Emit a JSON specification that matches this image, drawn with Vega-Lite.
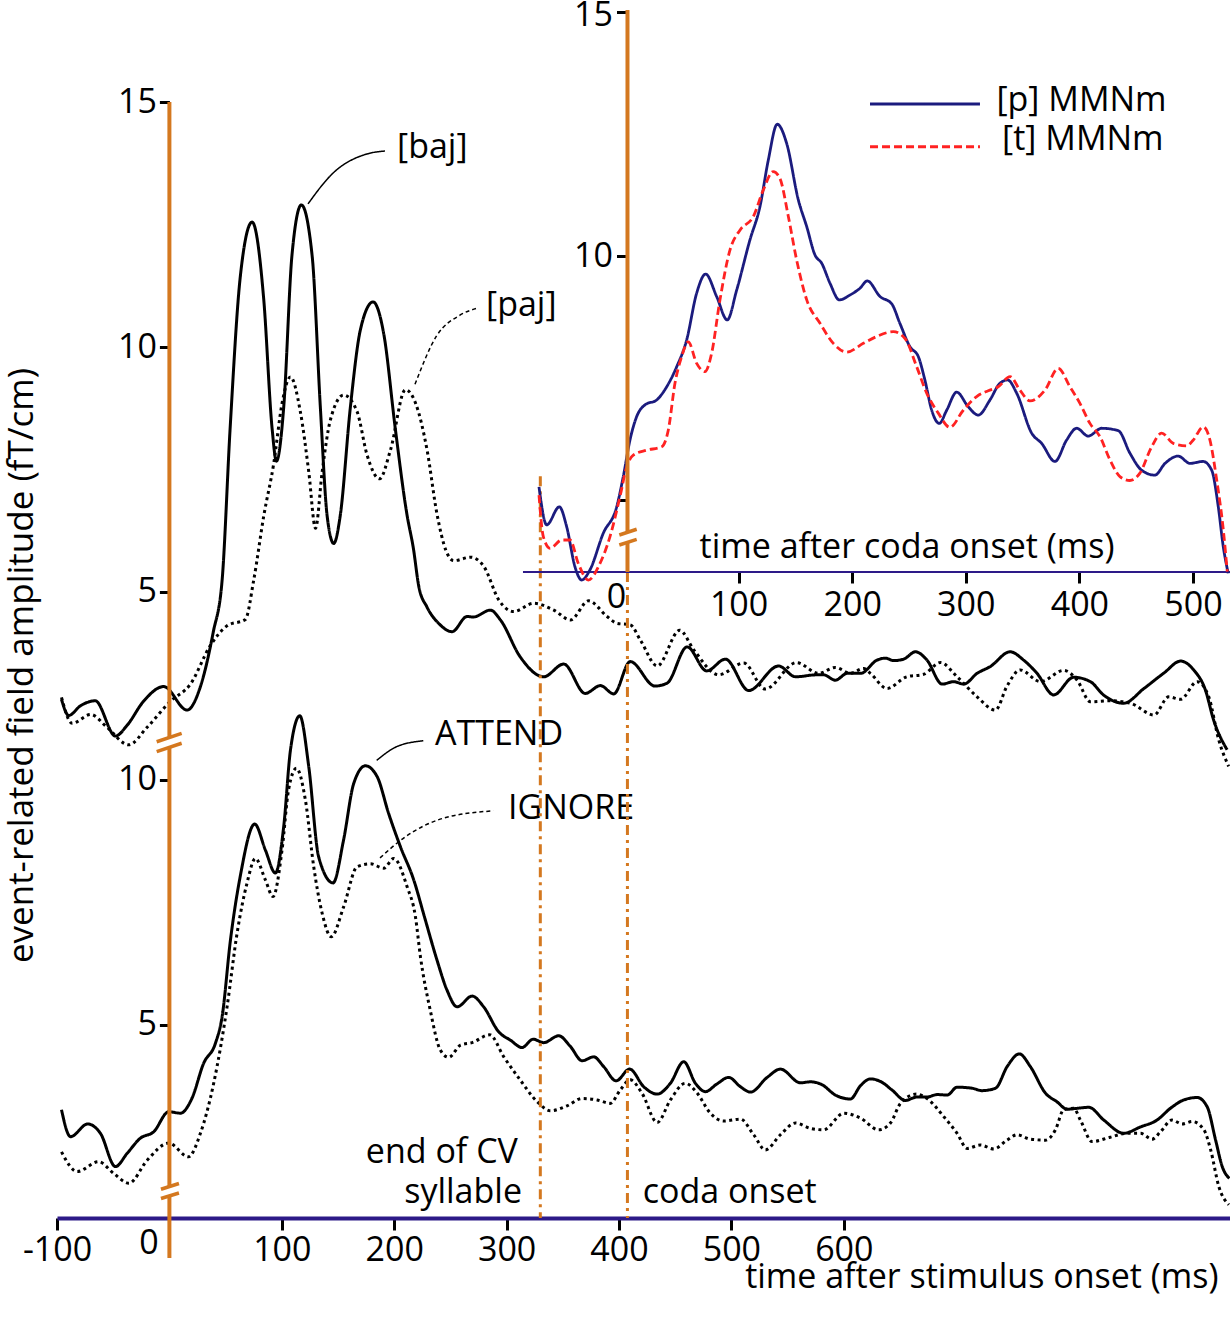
{
  "$schema": "https://vega.github.io/schema/vega-lite/v6.json",
  "width": 1173,
  "height": 1218,
  "autosize": {"type": "none"},
  "padding": {"left": 57, "top": 0, "right": 0, "bottom": 99},
  "background": "white",
  "config": {
    "view": {"stroke": null},
    "axis": {"labelFont": "Open Sans", "titleFont": "Open Sans", "grid": false},
    "text": {"font": "Open Sans"}
  },
  "datasets": {
    "upperCurves": [
      {"s":"baj","t":-96,"v":2.81},{"s":"baj","t":-89.6,"v":2.48},{"s":"baj","t":-79,"v":2.68},{"s":"baj","t":-66,"v":2.78},{"s":"baj","t":-48,"v":2.06},{"s":"baj","t":-37.6,"v":2.28},{"s":"baj","t":-23,"v":2.77},{"s":"baj","t":-5,"v":3.07},{"s":"baj","t":15.7,"v":2.59},{"s":"baj","t":27.6,"v":3.07},{"s":"baj","t":39,"v":4.18},{"s":"baj","t":46.9,"v":5.24},{"s":"baj","t":54,"v":8.33},{"s":"baj","t":63,"v":11.42},{"s":"baj","t":73.6,"v":12.55},{"s":"baj","t":83.9,"v":10.98},{"s":"baj","t":91.4,"v":8.33},{"s":"baj","t":95.2,"v":7.67},{"s":"baj","t":101.7,"v":8.77},{"s":"baj","t":109,"v":11.86},{"s":"baj","t":117.4,"v":12.9},{"s":"baj","t":127,"v":11.86},{"s":"baj","t":134.3,"v":8.77},{"s":"baj","t":140.3,"v":6.56},{"s":"baj","t":146.2,"v":5.99},{"s":"baj","t":152,"v":6.56},{"s":"baj","t":161,"v":8.77},{"s":"baj","t":170,"v":10.36},{"s":"baj","t":181.2,"v":10.92},{"s":"baj","t":190.7,"v":10.27},{"s":"baj","t":201,"v":8.33},{"s":"baj","t":211.5,"v":6.56},{"s":"baj","t":217,"v":5.9},{"s":"baj","t":222,"v":5.1},{"s":"baj","t":229,"v":4.7},{"s":"baj","t":240,"v":4.35},{"s":"baj","t":251.5,"v":4.19},{"s":"baj","t":264.8,"v":4.5},{"s":"baj","t":270.5,"v":4.49},{"s":"baj","t":285.6,"v":4.63},{"s":"baj","t":294.5,"v":4.43},{"s":"baj","t":312,"v":3.68},{"s":"baj","t":333,"v":3.27},{"s":"baj","t":350.8,"v":3.53},{"s":"baj","t":370,"v":2.93},{"s":"baj","t":383.5,"v":3.09},{"s":"baj","t":395.3,"v":2.92},{"s":"baj","t":410,"v":3.58},{"s":"baj","t":432,"v":3.08},{"s":"baj","t":442.8,"v":3.14},{"s":"baj","t":460.6,"v":3.88},{"s":"baj","t":478,"v":3.39},{"s":"baj","t":494.7,"v":3.63},{"s":"baj","t":515.4,"v":2.99},{"s":"baj","t":542,"v":3.49},{"s":"baj","t":557,"v":3.27},{"s":"baj","t":576,"v":3.31},{"s":"baj","t":582,"v":3.31},{"s":"baj","t":592.5,"v":3.2},{"s":"baj","t":603,"v":3.34},{"s":"baj","t":615,"v":3.34},{"s":"baj","t":629.6,"v":3.61},{"s":"baj","t":637,"v":3.65},{"s":"baj","t":644.4,"v":3.6},{"s":"baj","t":653.3,"v":3.63},{"s":"baj","t":663.7,"v":3.78},{"s":"baj","t":674,"v":3.61},{"s":"baj","t":687.5,"v":3.12},{"s":"baj","t":697.8,"v":3.17},{"s":"baj","t":706.7,"v":3.12},{"s":"baj","t":718.6,"v":3.34},{"s":"baj","t":730.4,"v":3.48},{"s":"baj","t":748,"v":3.78},{"s":"baj","t":760,"v":3.61},{"s":"baj","t":771.9,"v":3.34},{"s":"baj","t":786.7,"v":2.9},{"s":"baj","t":804.5,"v":3.26},{"s":"baj","t":819.4,"v":3.17},{"s":"baj","t":831,"v":2.9},{"s":"baj","t":849,"v":2.73},{"s":"baj","t":867,"v":3.03},{"s":"baj","t":885,"v":3.35},{"s":"baj","t":899.6,"v":3.59},{"s":"baj","t":911.3,"v":3.41},{"s":"baj","t":921.7,"v":3.0},{"s":"baj","t":929,"v":2.39},{"s":"baj","t":941,"v":1.78},
      {"s":"paj","t":-96,"v":2.85},{"s":"paj","t":-86.6,"v":2.32},{"s":"paj","t":-70,"v":2.5},{"s":"paj","t":-55.5,"v":2.24},{"s":"paj","t":-36.2,"v":1.88},{"s":"paj","t":-19.8,"v":2.24},{"s":"paj","t":0.9,"v":2.77},{"s":"paj","t":18.7,"v":3.12},{"s":"paj","t":36.5,"v":3.91},{"s":"paj","t":51.3,"v":4.31},{"s":"paj","t":67.6,"v":4.44},{"s":"paj","t":75,"v":5.24},{"s":"paj","t":84,"v":6.56},{"s":"paj","t":92.8,"v":7.62},{"s":"paj","t":100.3,"v":8.86},{"s":"paj","t":107.7,"v":9.39},{"s":"paj","t":116.5,"v":8.68},{"s":"paj","t":124,"v":7.45},{"s":"paj","t":130,"v":6.3},{"s":"paj","t":135.9,"v":7.45},{"s":"paj","t":143.2,"v":8.51},{"s":"paj","t":155,"v":9.02},{"s":"paj","t":167,"v":8.68},{"s":"paj","t":175.8,"v":7.8},{"s":"paj","t":187,"v":7.31},{"s":"paj","t":196.6,"v":7.89},{"s":"paj","t":210,"v":9.13},{"s":"paj","t":218.9,"v":8.86},{"s":"paj","t":229.3,"v":7.89},{"s":"paj","t":238,"v":6.6},{"s":"paj","t":246,"v":5.85},{"s":"paj","t":253,"v":5.64},{"s":"paj","t":268,"v":5.71},{"s":"paj","t":279.8,"v":5.52},{"s":"paj","t":293,"v":4.84},{"s":"paj","t":306.3,"v":4.6},{"s":"paj","t":324,"v":4.77},{"s":"paj","t":342,"v":4.63},{"s":"paj","t":356.8,"v":4.43},{"s":"paj","t":373,"v":4.82},{"s":"paj","t":389.4,"v":4.5},{"s":"paj","t":398.3,"v":4.36},{"s":"paj","t":410,"v":4.33},{"s":"paj","t":419,"v":4.02},{"s":"paj","t":434,"v":3.49},{"s":"paj","t":454,"v":4.22},{"s":"paj","t":466.5,"v":3.82},{"s":"paj","t":488.7,"v":3.31},{"s":"paj","t":511,"v":3.55},{"s":"paj","t":530,"v":3.02},{"s":"paj","t":558,"v":3.56},{"s":"paj","t":577.6,"v":3.34},{"s":"paj","t":592.5,"v":3.46},{"s":"paj","t":605.9,"v":3.34},{"s":"paj","t":617.7,"v":3.44},{"s":"paj","t":623.6,"v":3.34},{"s":"paj","t":638.5,"v":3.03},{"s":"paj","t":656,"v":3.27},{"s":"paj","t":671,"v":3.32},{"s":"paj","t":686,"v":3.56},{"s":"paj","t":700.8,"v":3.27},{"s":"paj","t":718.6,"v":2.86},{"s":"paj","t":734.9,"v":2.59},{"s":"paj","t":745,"v":3.07},{"s":"paj","t":757,"v":3.41},{"s":"paj","t":774.9,"v":3.17},{"s":"paj","t":795.6,"v":3.4},{"s":"paj","t":807.6,"v":3.2},{"s":"paj","t":819.4,"v":2.76},{"s":"paj","t":837,"v":2.78},{"s":"paj","t":855,"v":2.73},{"s":"paj","t":876,"v":2.49},{"s":"paj","t":889,"v":2.86},{"s":"paj","t":899.6,"v":2.81},{"s":"paj","t":914.4,"v":3.17},{"s":"paj","t":924.7,"v":2.86},{"s":"paj","t":933.6,"v":1.98},{"s":"paj","t":942.4,"v":1.44}
    ],
    "upperLeaders": [
      {"n":"baj","t":123.3,"v":12.92},{"n":"baj","t":145.6,"v":13.55},{"n":"baj","t":175.8,"v":13.94},{"n":"baj","t":191.8,"v":14.0},
      {"n":"paj","t":218.5,"v":9.24},{"n":"paj","t":237.8,"v":10.23},{"n":"paj","t":258.5,"v":10.65},{"n":"paj","t":274.8,"v":10.8}
    ],
    "upperNotes": [
      {"label":"[baj]","t":202.5,"v":14.07},
      {"label":"[paj]","t":281.7,"v":10.84}
    ],
    "lowerCurves": [
      {"s":"ATTEND","t":-96,"v":3.27},{"s":"ATTEND","t":-88,"v":2.72},{"s":"ATTEND","t":-72.7,"v":2.98},{"s":"ATTEND","t":-61.4,"v":2.79},{"s":"ATTEND","t":-48,"v":2.11},{"s":"ATTEND","t":-37.6,"v":2.38},{"s":"ATTEND","t":-25.8,"v":2.69},{"s":"ATTEND","t":-14,"v":2.82},{"s":"ATTEND","t":-0.6,"v":3.23},{"s":"ATTEND","t":9.8,"v":3.2},{"s":"ATTEND","t":20,"v":3.5},{"s":"ATTEND","t":30.5,"v":4.22},{"s":"ATTEND","t":41,"v":4.63},{"s":"ATTEND","t":46.9,"v":5.17},{"s":"ATTEND","t":54.3,"v":6.73},{"s":"ATTEND","t":63,"v":8.03},{"s":"ATTEND","t":75.9,"v":9.1},{"s":"ATTEND","t":85.4,"v":8.57},{"s":"ATTEND","t":94.3,"v":8.1},{"s":"ATTEND","t":101.7,"v":9.05},{"s":"ATTEND","t":107.7,"v":10.61},{"s":"ATTEND","t":116,"v":11.31},{"s":"ATTEND","t":124,"v":10.27},{"s":"ATTEND","t":132.8,"v":8.43},{"s":"ATTEND","t":145.6,"v":7.9},{"s":"ATTEND","t":155,"v":8.78},{"s":"ATTEND","t":164,"v":9.93},{"s":"ATTEND","t":174.4,"v":10.29},{"s":"ATTEND","t":184.8,"v":10.07},{"s":"ATTEND","t":195,"v":9.32},{"s":"ATTEND","t":205.5,"v":8.64},{"s":"ATTEND","t":217.4,"v":7.96},{"s":"ATTEND","t":227,"v":7.2},{"s":"ATTEND","t":238,"v":6.33},{"s":"ATTEND","t":247,"v":5.71},{"s":"ATTEND","t":256,"v":5.37},{"s":"ATTEND","t":269.3,"v":5.59},{"s":"ATTEND","t":279.6,"v":5.37},{"s":"ATTEND","t":293,"v":4.86},{"s":"ATTEND","t":303.4,"v":4.69},{"s":"ATTEND","t":313.8,"v":4.54},{"s":"ATTEND","t":323.6,"v":4.71},{"s":"ATTEND","t":333,"v":4.64},{"s":"ATTEND","t":346.4,"v":4.78},{"s":"ATTEND","t":356.8,"v":4.56},{"s":"ATTEND","t":367.2,"v":4.27},{"s":"ATTEND","t":377.5,"v":4.35},{"s":"ATTEND","t":386.4,"v":4.15},{"s":"ATTEND","t":397.4,"v":3.86},{"s":"ATTEND","t":409.5,"v":4.1},{"s":"ATTEND","t":422,"v":3.74},{"s":"ATTEND","t":434,"v":3.59},{"s":"ATTEND","t":445.7,"v":3.81},{"s":"ATTEND","t":457.6,"v":4.25},{"s":"ATTEND","t":468,"v":3.81},{"s":"ATTEND","t":476.9,"v":3.64},{"s":"ATTEND","t":487.3,"v":3.8},{"s":"ATTEND","t":497.6,"v":3.93},{"s":"ATTEND","t":508,"v":3.74},{"s":"ATTEND","t":517,"v":3.63},{"s":"ATTEND","t":531.8,"v":3.93},{"s":"ATTEND","t":543.6,"v":4.1},{"s":"ATTEND","t":561.4,"v":3.82},{"s":"ATTEND","t":570.3,"v":3.84},{"s":"ATTEND","t":580.7,"v":3.78},{"s":"ATTEND","t":592.5,"v":3.57},{"s":"ATTEND","t":605.9,"v":3.49},{"s":"ATTEND","t":614.8,"v":3.76},{"s":"ATTEND","t":623.7,"v":3.9},{"s":"ATTEND","t":634,"v":3.83},{"s":"ATTEND","t":643,"v":3.67},{"s":"ATTEND","t":654.8,"v":3.46},{"s":"ATTEND","t":665,"v":3.53},{"s":"ATTEND","t":674,"v":3.53},{"s":"ATTEND","t":683,"v":3.58},{"s":"ATTEND","t":692,"v":3.57},{"s":"ATTEND","t":700.8,"v":3.73},{"s":"ATTEND","t":714,"v":3.71},{"s":"ATTEND","t":723,"v":3.66},{"s":"ATTEND","t":735,"v":3.71},{"s":"ATTEND","t":745.3,"v":4.15},{"s":"ATTEND","t":756.2,"v":4.41},{"s":"ATTEND","t":766,"v":4.15},{"s":"ATTEND","t":779.4,"v":3.61},{"s":"ATTEND","t":789.8,"v":3.43},{"s":"ATTEND","t":798.7,"v":3.28},{"s":"ATTEND","t":807.6,"v":3.3},{"s":"ATTEND","t":818,"v":3.32},{"s":"ATTEND","t":831.3,"v":3.06},{"s":"ATTEND","t":849,"v":2.79},{"s":"ATTEND","t":864,"v":2.92},{"s":"ATTEND","t":878.7,"v":3.06},{"s":"ATTEND","t":890.6,"v":3.3},{"s":"ATTEND","t":902.5,"v":3.47},{"s":"ATTEND","t":914.4,"v":3.52},{"s":"ATTEND","t":923.3,"v":3.33},{"s":"ATTEND","t":930.8,"v":2.65},{"s":"ATTEND","t":936.7,"v":2.11},{"s":"ATTEND","t":943,"v":1.87},
      {"s":"IGNORE","t":-96,"v":2.41},{"s":"IGNORE","t":-82,"v":2.01},{"s":"IGNORE","t":-63,"v":2.21},{"s":"IGNORE","t":-49.5,"v":1.97},{"s":"IGNORE","t":-36,"v":1.77},{"s":"IGNORE","t":-19.8,"v":2.24},{"s":"IGNORE","t":-0.6,"v":2.59},{"s":"IGNORE","t":17,"v":2.31},{"s":"IGNORE","t":27.6,"v":2.79},{"s":"IGNORE","t":39.4,"v":3.81},{"s":"IGNORE","t":51.3,"v":5.37},{"s":"IGNORE","t":60.2,"v":6.87},{"s":"IGNORE","t":69,"v":7.89},{"s":"IGNORE","t":76.5,"v":8.4},{"s":"IGNORE","t":85.4,"v":7.96},{"s":"IGNORE","t":92.2,"v":7.62},{"s":"IGNORE","t":100.2,"v":8.57},{"s":"IGNORE","t":106,"v":9.8},{"s":"IGNORE","t":113,"v":10.24},{"s":"IGNORE","t":121,"v":9.59},{"s":"IGNORE","t":128.4,"v":8.23},{"s":"IGNORE","t":135.9,"v":7.28},{"s":"IGNORE","t":144,"v":6.8},{"s":"IGNORE","t":155,"v":7.41},{"s":"IGNORE","t":167,"v":8.23},{"s":"IGNORE","t":178.8,"v":8.29},{"s":"IGNORE","t":190.7,"v":8.2},{"s":"IGNORE","t":199.6,"v":8.4},{"s":"IGNORE","t":211.5,"v":7.82},{"s":"IGNORE","t":218.9,"v":7.21},{"s":"IGNORE","t":223.3,"v":6.4},{"s":"IGNORE","t":232,"v":5.31},{"s":"IGNORE","t":241,"v":4.49},{"s":"IGNORE","t":248.5,"v":4.34},{"s":"IGNORE","t":259,"v":4.59},{"s":"IGNORE","t":269.3,"v":4.64},{"s":"IGNORE","t":285,"v":4.8},{"s":"IGNORE","t":297.5,"v":4.35},{"s":"IGNORE","t":312,"v":3.88},{"s":"IGNORE","t":327,"v":3.44},{"s":"IGNORE","t":339,"v":3.25},{"s":"IGNORE","t":353.8,"v":3.35},{"s":"IGNORE","t":367,"v":3.5},{"s":"IGNORE","t":380.5,"v":3.47},{"s":"IGNORE","t":392.3,"v":3.4},{"s":"IGNORE","t":401,"v":3.67},{"s":"IGNORE","t":410,"v":3.88},{"s":"IGNORE","t":420.4,"v":3.61},{"s":"IGNORE","t":434,"v":3.01},{"s":"IGNORE","t":445.7,"v":3.47},{"s":"IGNORE","t":459,"v":3.81},{"s":"IGNORE","t":469.5,"v":3.61},{"s":"IGNORE","t":481.3,"v":3.2},{"s":"IGNORE","t":493.2,"v":3.04},{"s":"IGNORE","t":508,"v":3.08},{"s":"IGNORE","t":519.8,"v":2.76},{"s":"IGNORE","t":530.2,"v":2.45},{"s":"IGNORE","t":543.6,"v":2.76},{"s":"IGNORE","t":557,"v":3.0},{"s":"IGNORE","t":570.3,"v":2.89},{"s":"IGNORE","t":582,"v":2.86},{"s":"IGNORE","t":600,"v":3.2},{"s":"IGNORE","t":614.8,"v":3.1},{"s":"IGNORE","t":631,"v":2.86},{"s":"IGNORE","t":641.5,"v":3.0},{"s":"IGNORE","t":650.4,"v":3.4},{"s":"IGNORE","t":664.6,"v":3.59},{"s":"IGNORE","t":674,"v":3.5},{"s":"IGNORE","t":688.9,"v":3.13},{"s":"IGNORE","t":700.8,"v":2.79},{"s":"IGNORE","t":709.7,"v":2.48},{"s":"IGNORE","t":721.5,"v":2.55},{"s":"IGNORE","t":733.4,"v":2.47},{"s":"IGNORE","t":745.3,"v":2.65},{"s":"IGNORE","t":754.2,"v":2.76},{"s":"IGNORE","t":766,"v":2.67},{"s":"IGNORE","t":779.4,"v":2.65},{"s":"IGNORE","t":788.3,"v":2.86},{"s":"IGNORE","t":795.6,"v":3.27},{"s":"IGNORE","t":804.5,"v":3.3},{"s":"IGNORE","t":810.5,"v":3.06},{"s":"IGNORE","t":820.9,"v":2.62},{"s":"IGNORE","t":837,"v":2.71},{"s":"IGNORE","t":851.7,"v":2.79},{"s":"IGNORE","t":864,"v":2.79},{"s":"IGNORE","t":874.3,"v":2.67},{"s":"IGNORE","t":881.7,"v":2.82},{"s":"IGNORE","t":892,"v":3.06},{"s":"IGNORE","t":901,"v":2.98},{"s":"IGNORE","t":910,"v":3.03},{"s":"IGNORE","t":920.4,"v":2.86},{"s":"IGNORE","t":926.4,"v":2.45},{"s":"IGNORE","t":933.7,"v":1.7},{"s":"IGNORE","t":942.6,"v":1.33}
    ],
    "lowerLeaders": [
      {"n":"ATTEND","t":184.4,"v":10.4},{"n":"ATTEND","t":202.2,"v":10.68},{"n":"ATTEND","t":225.9,"v":10.8},
      {"n":"IGNORE","t":187.4,"v":8.41},{"n":"IGNORE","t":208.1,"v":8.81},{"n":"IGNORE","t":243.7,"v":9.22},{"n":"IGNORE","t":288.2,"v":9.37}
    ],
    "lowerNotes": [
      {"label":"ATTEND","t":236.3,"v":10.91},
      {"label":"IGNORE","t":301.2,"v":9.41},
      {"label":"coda onset","t":421.1,"v":1.57}
    ],
    "lowerNotesRight": [
      {"label":"end of CV","t":310,"v":2.39},
      {"label":"syllable","t":313.7,"v":1.57}
    ],
    "mainAxisLine": [
      {"t":0,"v":23.837,"v2":10.869},
      {"t":0,"v":10.653,"v2":1.702},
      {"t":0,"v":1.51,"v2":0.245}
    ],
    "mainBreaks": [
      {"t":-11.3,"t2":10.9,"v":10.78,"v2":10.95},
      {"t":-11.3,"t2":10.9,"v":10.58,"v2":10.75},
      {"t":-7.5,"t2":8.5,"v":1.647,"v2":1.765},
      {"t":-7.5,"t2":8.5,"v":1.459,"v2":1.571}
    ],
    "events": [
      {"event":"end of CV syllable","t":330,"v":16.2,"v2":1.061},
      {"event":"coda onset","t":407.5,"v":14.245,"v2":1.061}
    ],
    "insetCurves": [
      {"s":"[p] MMNm","t":-75.7,"v":5.27},{"s":"[p] MMNm","t":-68.9,"v":4.49},{"s":"[p] MMNm","t":-57.8,"v":4.86},{"s":"[p] MMNm","t":-51.3,"v":4.45},{"s":"[p] MMNm","t":-44,"v":3.63},{"s":"[p] MMNm","t":-38.1,"v":3.36},{"s":"[p] MMNm","t":-30.8,"v":3.57},{"s":"[p] MMNm","t":-19.1,"v":4.32},{"s":"[p] MMNm","t":-7.3,"v":4.86},{"s":"[p] MMNm","t":-1.5,"v":5.48},{"s":"[p] MMNm","t":4.4,"v":6.23},{"s":"[p] MMNm","t":10.3,"v":6.71},{"s":"[p] MMNm","t":17.6,"v":6.95},{"s":"[p] MMNm","t":27.9,"v":7.05},{"s":"[p] MMNm","t":36.7,"v":7.32},{"s":"[p] MMNm","t":45.5,"v":7.73},{"s":"[p] MMNm","t":54.3,"v":8.28},{"s":"[p] MMNm","t":63.1,"v":9.24},{"s":"[p] MMNm","t":71,"v":9.63},{"s":"[p] MMNm","t":80.7,"v":9.17},{"s":"[p] MMNm","t":90,"v":8.69},{"s":"[p] MMNm","t":98.3,"v":9.3},{"s":"[p] MMNm","t":110,"v":10.33},{"s":"[p] MMNm","t":118.8,"v":11.01},{"s":"[p] MMNm","t":126.2,"v":11.97},{"s":"[p] MMNm","t":134,"v":12.7},{"s":"[p] MMNm","t":142.3,"v":12.31},{"s":"[p] MMNm","t":152.6,"v":11.15},{"s":"[p] MMNm","t":160,"v":10.6},{"s":"[p] MMNm","t":167.3,"v":10.02},{"s":"[p] MMNm","t":173.2,"v":9.85},{"s":"[p] MMNm","t":180.5,"v":9.44},{"s":"[p] MMNm","t":188.7,"v":9.1},{"s":"[p] MMNm","t":198,"v":9.2},{"s":"[p] MMNm","t":206.9,"v":9.34},{"s":"[p] MMNm","t":213.3,"v":9.49},{"s":"[p] MMNm","t":224.5,"v":9.17},{"s":"[p] MMNm","t":234.8,"v":9.02},{"s":"[p] MMNm","t":242,"v":8.62},{"s":"[p] MMNm","t":250.9,"v":8.14},{"s":"[p] MMNm","t":258.2,"v":7.94},{"s":"[p] MMNm","t":264,"v":7.46},{"s":"[p] MMNm","t":270,"v":6.84},{"s":"[p] MMNm","t":276.7,"v":6.57},{"s":"[p] MMNm","t":283.2,"v":6.84},{"s":"[p] MMNm","t":292,"v":7.21},{"s":"[p] MMNm","t":302.2,"v":6.91},{"s":"[p] MMNm","t":311,"v":6.74},{"s":"[p] MMNm","t":321.3,"v":7.05},{"s":"[p] MMNm","t":330,"v":7.39},{"s":"[p] MMNm","t":336.9,"v":7.46},{"s":"[p] MMNm","t":344.8,"v":7.19},{"s":"[p] MMNm","t":358,"v":6.37},{"s":"[p] MMNm","t":366.8,"v":6.16},{"s":"[p] MMNm","t":378.5,"v":5.79},{"s":"[p] MMNm","t":388.8,"v":6.23},{"s":"[p] MMNm","t":397.6,"v":6.47},{"s":"[p] MMNm","t":407.8,"v":6.31},{"s":"[p] MMNm","t":419.6,"v":6.47},{"s":"[p] MMNm","t":434.3,"v":6.42},{"s":"[p] MMNm","t":444.5,"v":5.96},{"s":"[p] MMNm","t":454.8,"v":5.61},{"s":"[p] MMNm","t":466.5,"v":5.51},{"s":"[p] MMNm","t":475.4,"v":5.75},{"s":"[p] MMNm","t":487,"v":5.9},{"s":"[p] MMNm","t":497.4,"v":5.75},{"s":"[p] MMNm","t":509,"v":5.79},{"s":"[p] MMNm","t":516.5,"v":5.61},{"s":"[p] MMNm","t":522.3,"v":4.86},{"s":"[p] MMNm","t":526.7,"v":4.04},{"s":"[p] MMNm","t":531,"v":3.5},
      {"s":"[t] MMNm","t":-75.7,"v":5.1},{"s":"[t] MMNm","t":-71.9,"v":4.25},{"s":"[t] MMNm","t":-66,"v":4.01},{"s":"[t] MMNm","t":-55.7,"v":4.18},{"s":"[t] MMNm","t":-48.4,"v":4.18},{"s":"[t] MMNm","t":-41.1,"v":3.7},{"s":"[t] MMNm","t":-32.3,"v":3.36},{"s":"[t] MMNm","t":-22,"v":3.7},{"s":"[t] MMNm","t":-13.2,"v":4.25},{"s":"[t] MMNm","t":-4.4,"v":5.07},{"s":"[t] MMNm","t":1.5,"v":5.68},{"s":"[t] MMNm","t":7.3,"v":5.92},{"s":"[t] MMNm","t":19.1,"v":6.02},{"s":"[t] MMNm","t":32.3,"v":6.09},{"s":"[t] MMNm","t":38.1,"v":6.43},{"s":"[t] MMNm","t":44,"v":7.39},{"s":"[t] MMNm","t":49.9,"v":7.94},{"s":"[t] MMNm","t":55.7,"v":8.24},{"s":"[t] MMNm","t":63.1,"v":7.8},{"s":"[t] MMNm","t":70.4,"v":7.63},{"s":"[t] MMNm","t":76.3,"v":8.01},{"s":"[t] MMNm","t":83.6,"v":9.1},{"s":"[t] MMNm","t":92.4,"v":10.12},{"s":"[t] MMNm","t":101.2,"v":10.53},{"s":"[t] MMNm","t":113,"v":10.81},{"s":"[t] MMNm","t":121.7,"v":11.35},{"s":"[t] MMNm","t":130.5,"v":11.73},{"s":"[t] MMNm","t":136.4,"v":11.59},{"s":"[t] MMNm","t":143.8,"v":10.81},{"s":"[t] MMNm","t":151.1,"v":9.92},{"s":"[t] MMNm","t":160,"v":9.1},{"s":"[t] MMNm","t":171.7,"v":8.62},{"s":"[t] MMNm","t":183.4,"v":8.21},{"s":"[t] MMNm","t":195.2,"v":8.03},{"s":"[t] MMNm","t":209.8,"v":8.21},{"s":"[t] MMNm","t":221.6,"v":8.35},{"s":"[t] MMNm","t":236.2,"v":8.45},{"s":"[t] MMNm","t":246.5,"v":8.31},{"s":"[t] MMNm","t":256.8,"v":7.73},{"s":"[t] MMNm","t":265.6,"v":7.19},{"s":"[t] MMNm","t":275.8,"v":6.78},{"s":"[t] MMNm","t":286,"v":6.49},{"s":"[t] MMNm","t":297.8,"v":6.84},{"s":"[t] MMNm","t":309.6,"v":7.12},{"s":"[t] MMNm","t":319.8,"v":7.24},{"s":"[t] MMNm","t":328.6,"v":7.32},{"s":"[t] MMNm","t":339,"v":7.53},{"s":"[t] MMNm","t":347.7,"v":7.25},{"s":"[t] MMNm","t":356.5,"v":7.03},{"s":"[t] MMNm","t":369.7,"v":7.25},{"s":"[t] MMNm","t":381.4,"v":7.7},{"s":"[t] MMNm","t":391.7,"v":7.32},{"s":"[t] MMNm","t":400.5,"v":6.98},{"s":"[t] MMNm","t":409.3,"v":6.57},{"s":"[t] MMNm","t":418.1,"v":6.3},{"s":"[t] MMNm","t":427,"v":5.82},{"s":"[t] MMNm","t":435.7,"v":5.48},{"s":"[t] MMNm","t":444.5,"v":5.4},{"s":"[t] MMNm","t":453.3,"v":5.55},{"s":"[t] MMNm","t":463.6,"v":6.09},{"s":"[t] MMNm","t":472.4,"v":6.37},{"s":"[t] MMNm","t":482.7,"v":6.16},{"s":"[t] MMNm","t":494.5,"v":6.11},{"s":"[t] MMNm","t":500.3,"v":6.23},{"s":"[t] MMNm","t":509,"v":6.5},{"s":"[t] MMNm","t":514.9,"v":6.23},{"s":"[t] MMNm","t":520.9,"v":5.41},{"s":"[t] MMNm","t":526.7,"v":4.39},{"s":"[t] MMNm","t":530.2,"v":3.53}
    ],
    "insetKey": [
      {"s":"[p] MMNm","t":215.7,"t2":312.5,"v":13.115,"tl":327,"vl":13.176},
      {"s":"[t] MMNm","t":215.7,"t2":312.5,"v":12.24,"tl":332,"vl":12.377}
    ],
    "insetAxisLine": [
      {"t":2.2,"v":15.04,"v2":4.338},
      {"t":2.2,"v":4.133,"v2":3.525}
    ],
    "insetBreaks": [
      {"t":-5,"t2":10.3,"v":4.283,"v2":4.4},
      {"t":-5,"t2":10.3,"v":4.078,"v2":4.195}
    ],
    "insetBaseline": [
      {"t":-89.8,"t2":532.6,"v":3.525}
    ]
  },
  "resolve": {"scale": {"x": "independent", "y": "independent", "color": "independent", "strokeDash": "independent"}},
  "layer": [
    {
      "encoding": {
        "x": {"field": "t", "type": "quantitative", "scale": {"domain": [-100, 943.6], "nice": false, "zero": false}, "axis": null},
        "y": {"field": "v", "type": "quantitative", "scale": {"domain": [-7.776, 17.082], "nice": false, "zero": false},
          "axis": {"orient": "left", "offset": -112.4, "values": [5, 10, 15], "domain": false, "tickSize": 10, "tickWidth": 3, "tickColor": "black",
            "labelFontSize": 34, "labelColor": "black", "labelPadding": 3, "labelFlush": false, "labelOverlap": false, "title": null}}
      },
      "resolve": {"scale": {"strokeDash": "independent"}},
      "layer": [
        {
          "data": {"name": "upperCurves"},
          "mark": {"type": "line", "interpolate": "monotone", "color": "black", "strokeWidth": 3},
          "encoding": {
            "strokeDash": {"field": "s", "type": "nominal", "scale": {"domain": ["baj", "paj"], "range": [[1, 0], [3, 3.5]]}, "legend": null}
          }
        },
        {
          "data": {"name": "upperLeaders"},
          "mark": {"type": "line", "interpolate": "monotone", "color": "black", "strokeWidth": 1.5},
          "encoding": {
            "strokeDash": {"field": "n", "type": "nominal", "scale": {"domain": ["baj", "paj"], "range": [[1, 0], [4, 3]]}, "legend": null}
          }
        },
        {
          "data": {"name": "upperNotes"},
          "mark": {"type": "text", "align": "left", "baseline": "middle", "fontSize": 34, "color": "black"},
          "encoding": {"text": {"field": "label"}}
        }
      ]
    },
    {
      "encoding": {
        "x": {"field": "t", "type": "quantitative", "scale": {"domain": [-100, 943.6], "nice": false, "zero": false},
          "axis": {"orient": "bottom", "values": [-100, 0, 100, 200, 300, 400, 500, 600], "domainColor": "#2d1a88", "domainWidth": 4,
            "tickColor": "black", "tickWidth": 3, "tickSize": 12,
            "tickOpacity": {"condition": {"test": "datum.value === 0", "value": 0}, "value": 1},
            "labelExpr": "datum.value < 0 ? '-' + abs(datum.value) : datum.label",
            "labelFontSize": 34, "labelColor": "black", "labelFlush": false, "labelOverlap": false,
            "labelPadding": {"condition": {"test": "datum.value === 0", "value": -4}, "value": 3},
            "labelOffset": {"condition": {"test": "datum.value === 0", "value": -21}, "value": 0},
            "title": "time after stimulus onset (ms)", "titleFontSize": 34, "titleFontWeight": "normal", "titleColor": "black",
            "titleX": 1161, "titleY": 59, "titleAlign": "right", "titleBaseline": "middle"}},
        "y": {"field": "v", "type": "quantitative", "scale": {"domain": [1.061, 25.918], "nice": false, "zero": false},
          "axis": {"orient": "left", "offset": -112.4, "values": [5, 10], "domain": false, "tickSize": 10, "tickWidth": 3, "tickColor": "black",
            "labelFontSize": 34, "labelColor": "black", "labelPadding": 3, "labelFlush": false, "labelOverlap": false,
            "title": "event-related field amplitude (fT/cm)", "titleFontSize": 35, "titleFontWeight": "normal", "titleColor": "black",
            "titleAngle": 270, "titleX": -136.5, "titleY": 665, "titleAlign": "center", "titleBaseline": "alphabetic"}}
      },
      "resolve": {"scale": {"strokeDash": "independent"}},
      "layer": [
        {
          "data": {"name": "lowerCurves"},
          "mark": {"type": "line", "interpolate": "monotone", "color": "black", "strokeWidth": 3},
          "encoding": {
            "strokeDash": {"field": "s", "type": "nominal", "scale": {"domain": ["ATTEND", "IGNORE"], "range": [[1, 0], [3, 3.5]]}, "legend": null}
          }
        },
        {
          "data": {"name": "lowerLeaders"},
          "mark": {"type": "line", "interpolate": "monotone", "color": "black", "strokeWidth": 1.5},
          "encoding": {
            "strokeDash": {"field": "n", "type": "nominal", "scale": {"domain": ["ATTEND", "IGNORE"], "range": [[1, 0], [4, 3]]}, "legend": null}
          }
        },
        {
          "data": {"name": "lowerNotes"},
          "mark": {"type": "text", "align": "left", "baseline": "middle", "fontSize": 34, "color": "black"},
          "encoding": {"text": {"field": "label"}}
        },
        {
          "data": {"name": "lowerNotesRight"},
          "mark": {"type": "text", "align": "right", "baseline": "middle", "fontSize": 34, "color": "black"},
          "encoding": {"text": {"field": "label"}}
        },
        {
          "data": {"name": "events"},
          "mark": {"type": "rule", "color": "#d4781f", "strokeWidth": 3, "strokeDash": [10, 5, 3, 5]},
          "encoding": {"y2": {"field": "v2"}}
        },
        {
          "data": {"name": "mainAxisLine"},
          "mark": {"type": "rule", "color": "#d4781f", "strokeWidth": 4},
          "encoding": {"y2": {"field": "v2"}}
        },
        {
          "data": {"name": "mainBreaks"},
          "mark": {"type": "rule", "color": "#d4781f", "strokeWidth": 3.5},
          "encoding": {"x2": {"field": "t2"}, "y2": {"field": "v2"}}
        }
      ]
    },
    {
      "encoding": {
        "x": {"field": "t", "type": "quantitative", "scale": {"domain": [-500, 532.6], "nice": false, "zero": false},
          "axis": {"orient": "bottom", "offset": -646, "values": [0, 100, 200, 300, 400, 500], "domain": false,
            "tickColor": "black", "tickWidth": 3, "tickSize": 11,
            "tickOpacity": {"condition": {"test": "datum.value === 0", "value": 0}, "value": 1},
            "labelFontSize": 34, "labelColor": "black", "labelFlush": false, "labelOverlap": false,
            "labelPadding": {"condition": {"test": "datum.value === 0", "value": -3}, "value": 5},
            "labelOffset": {"condition": {"test": "datum.value === 0", "value": -9}, "value": 0},
            "title": "time after coda onset (ms)", "titleFontSize": 34, "titleFontWeight": "normal", "titleColor": "black",
            "titleX": 849.5, "titleY": -25, "titleAlign": "center", "titleBaseline": "middle"}},
        "y": {"field": "v", "type": "quantitative", "scale": {"domain": [-9.713, 15.246], "nice": false, "zero": false},
          "axis": {"orient": "left", "offset": -570.5, "values": [5, 10, 15], "domain": false, "tickSize": 11, "tickWidth": 3, "tickColor": "black",
            "labelExpr": "datum.value === 5 ? '' : datum.label",
            "labelOffset": {"condition": {"test": "datum.value === 15", "value": 3}, "value": 0},
            "labelFontSize": 34, "labelColor": "black", "labelPadding": 4, "labelFlush": false, "labelOverlap": false, "title": null}}
      },
      "layer": [
        {
          "data": {"name": "insetBaseline"},
          "mark": {"type": "rule", "color": "#2d1a88", "strokeWidth": 2},
          "encoding": {"x2": {"field": "t2"}}
        },
        {
          "data": {"name": "insetCurves"},
          "mark": {"type": "line", "interpolate": "monotone", "strokeWidth": 2.8},
          "encoding": {
            "color": {"field": "s", "type": "nominal", "scale": {"domain": ["[p] MMNm", "[t] MMNm"], "range": ["#1b1b7e", "#ff2222"]}, "legend": null},
            "strokeDash": {"field": "s", "type": "nominal", "scale": {"domain": ["[p] MMNm", "[t] MMNm"], "range": [[1, 0], [8, 4]]}, "legend": null}
          }
        },
        {
          "data": {"name": "insetKey"},
          "mark": {"type": "rule", "strokeWidth": 3},
          "encoding": {
            "x2": {"field": "t2"},
            "color": {"field": "s", "type": "nominal", "scale": {"domain": ["[p] MMNm", "[t] MMNm"], "range": ["#1b1b7e", "#ff2222"]}, "legend": null},
            "strokeDash": {"field": "s", "type": "nominal", "scale": {"domain": ["[p] MMNm", "[t] MMNm"], "range": [[1, 0], [8, 4]]}, "legend": null}
          }
        },
        {
          "data": {"name": "insetKey"},
          "mark": {"type": "text", "align": "left", "baseline": "middle", "fontSize": 34, "color": "black"},
          "encoding": {
            "x": {"field": "tl", "type": "quantitative"},
            "y": {"field": "vl", "type": "quantitative"},
            "text": {"field": "s"}
          }
        },
        {
          "data": {"name": "insetAxisLine"},
          "mark": {"type": "rule", "color": "#d4781f", "strokeWidth": 4},
          "encoding": {"y2": {"field": "v2"}}
        },
        {
          "data": {"name": "insetBreaks"},
          "mark": {"type": "rule", "color": "#d4781f", "strokeWidth": 3.5},
          "encoding": {"x2": {"field": "t2"}, "y2": {"field": "v2"}}
        }
      ]
    }
  ]
}
